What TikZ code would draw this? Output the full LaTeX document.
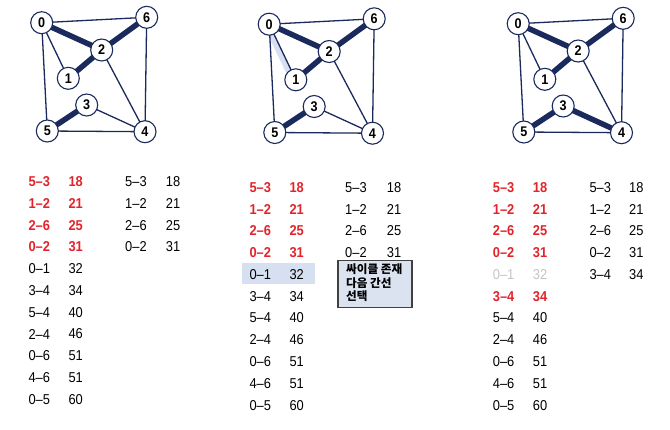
\documentclass[tikz,border=0pt]{standalone}
\usepackage{fontspec}
\setmainfont{Liberation Sans}[FakeStretch=0.9]
\newfontfamily\krfont{Noto Sans CJK KR}
\definecolor{navy}{HTML}{1B2A5C}
\definecolor{kred}{HTML}{E3232B}
\definecolor{lgray}{HTML}{C4C4C4}
\definecolor{hlblue}{HTML}{D6E0F0}
\definecolor{callfill}{HTML}{DBE3F1}
\begin{document}
\begin{tikzpicture}[x=1pt,y=-1pt,
  vtx/.style={circle,draw=navy,line width=1.1pt,fill=white,minimum size=22pt,inner sep=0pt,font=\fontsize{14}{14}\selectfont\bfseries},
  thin/.style={draw=navy,line width=1.3pt},
  thick/.style={draw=navy,line width=5.5pt},
  glow/.style={draw=hlblue,line width=6pt},
  cell/.style={anchor=west,inner sep=0pt,font=\fontsize{14.3}{14}\selectfont},
  redcell/.style={cell,text=kred,font=\fontsize{14.3}{14}\selectfont\bfseries},
  graycell/.style={cell,text=lgray},
  callout/.style={draw=black!75,line width=1.2pt,fill=callfill}
]
\useasboundingbox (0,0) rectangle (670,429);

% ---------- graphs ----------
\foreach \p/\dx/\dy/\hl/\tt in {a/0/0/0/0, b/227.5/1.5/1/0, c/476.5/1/0/1}{
  \begin{scope}[shift={(\dx,\dy)}]
    \coordinate (\p p0) at (41.7,22.7);
    \coordinate (\p p6) at (146.7,17.3);
    \coordinate (\p p2) at (101.7,50);
    \coordinate (\p p1) at (68.3,78.3);
    \coordinate (\p p3) at (86.7,105);
    \coordinate (\p p5) at (47.3,131);
    \coordinate (\p p4) at (145,131.7);
    \ifnum\hl=1
      \path[glow] ([xshift=-3pt]\p p0) -- ([xshift=-3pt]\p p1);
    \fi
    \path[thin] (\p p0) -- (\p p6);
    \path[thin] (\p p0) -- (\p p1);
    \path[thin] (\p p0) -- (\p p5);
    \path[thin] (\p p2) -- (\p p4);
    \path[thin] (\p p6) -- (\p p4);
    \path[thin] (\p p5) -- (\p p4);
    \ifnum\tt=1
      \path[thick] (\p p3) -- (\p p4);
    \else
      \path[thin] (\p p3) -- (\p p4);
    \fi
    \path[thick] (\p p0) -- (\p p2);
    \path[thick] (\p p2) -- (\p p6);
    \path[thick] (\p p1) -- (\p p2);
    \path[thick] (\p p3) -- (\p p5);
    \foreach \v in {0,...,6}{ \node[vtx] (\p\v) at (\p p\v) {\v}; }
  \end{scope}
}

% ---------- table 1 ----------
\foreach \e/\w/\s [count=\i from 0] in {5–3/18/redcell,1–2/21/redcell,2–6/25/redcell,0–2/31/redcell,0–1/32/cell,3–4/34/cell,5–4/40/cell,2–4/46/cell,0–6/51/cell,4–6/51/cell,0–5/60/cell}{
  \node[\s] (ta\i) at (28.3,181.7+21.76*\i) {\e};
  \node[\s] (tan\i) at (68.3,181.7+21.76*\i) {\w};
}
\foreach \e/\w [count=\i from 0] in {5–3/18,1–2/21,2–6/25,0–2/31}{
  \node[cell] (sa\i) at (125,181.7+21.76*\i) {\e};
  \node[cell] (san\i) at (165.7,181.7+21.76*\i) {\w};
}

% ---------- table 2 ----------
\fill[hlblue] (241.7,263.3) rectangle (315,284.3);
\foreach \e/\w/\s [count=\i from 0] in {5–3/18/redcell,1–2/21/redcell,2–6/25/redcell,0–2/31/redcell,0–1/32/cell,3–4/34/cell,5–4/40/cell,2–4/46/cell,0–6/51/cell,4–6/51/cell,0–5/60/cell}{
  \node[\s] (tb\i) at (249.3,187.5+21.76*\i) {\e};
  \node[\s] (tbn\i) at (289.3,187.5+21.76*\i) {\w};
}
\foreach \e/\w [count=\i from 0] in {5–3/18,1–2/21,2–6/25,0–2/31}{
  \node[cell] (sb\i) at (345,187.5+21.76*\i) {\e};
  \node[cell] (sbn\i) at (386.7,187.5+21.76*\i) {\w};
}
\node[callout,minimum width=74pt,minimum height=46.5pt,anchor=north west,inner sep=0pt] (call) at (337.3,260) {};
\node[anchor=north west,inner sep=0pt,align=left,font=\krfont\bfseries\fontsize{11.6}{13.6}\selectfont] (calltxt) at ([xshift=8.7pt,yshift=-3.5pt]call.north west) {싸이클 존재\\다음 간선\\선택};

% ---------- table 3 ----------
\foreach \e/\w/\s [count=\i from 0] in {5–3/18/redcell,1–2/21/redcell,2–6/25/redcell,0–2/31/redcell,0–1/32/graycell,3–4/34/redcell,5–4/40/cell,2–4/46/cell,0–6/51/cell,4–6/51/cell,0–5/60/cell}{
  \node[\s] (tc\i) at (492.7,187.5+21.76*\i) {\e};
  \node[\s] (tcn\i) at (532.7,187.5+21.76*\i) {\w};
}
\foreach \e/\w [count=\i from 0] in {5–3/18,1–2/21,2–6/25,0–2/31,3–4/34}{
  \node[cell] (sc\i) at (589.3,187.5+21.76*\i) {\e};
  \node[cell] (scn\i) at (629,187.5+21.76*\i) {\w};
}
\end{tikzpicture}
\end{document}
